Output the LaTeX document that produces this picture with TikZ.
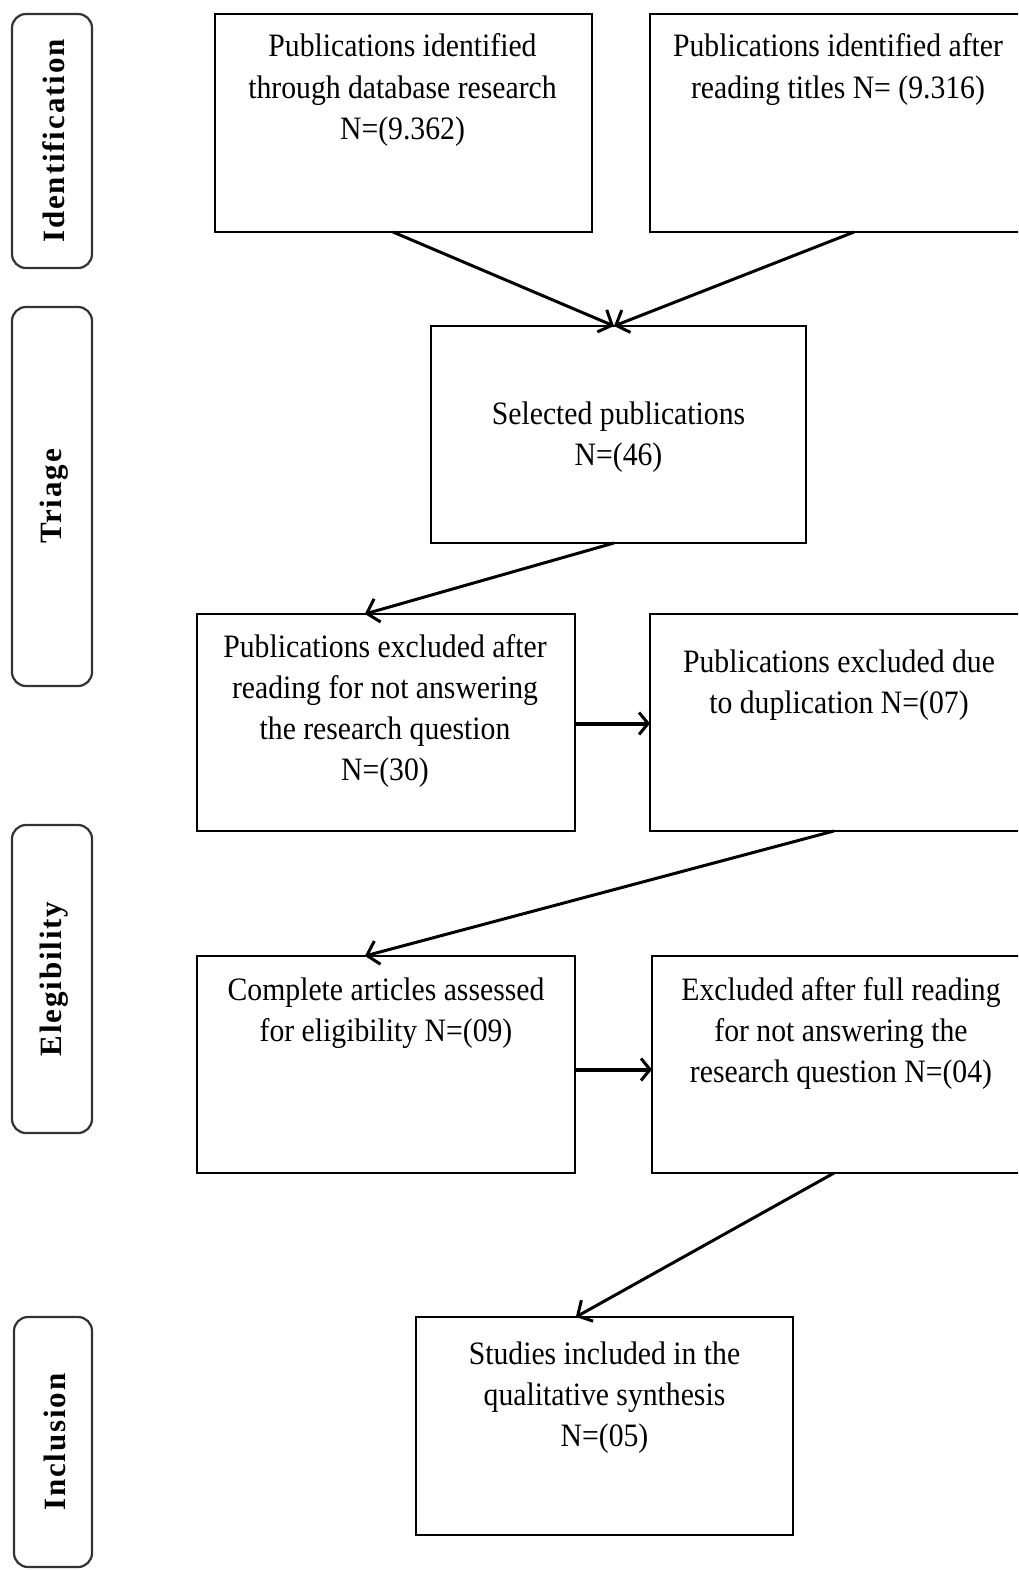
\documentclass[tikz,border=0pt]{standalone}
\usepackage{graphicx}
\usepackage{fontspec}
\setmainfont{Liberation Serif}
\newfontfamily\lblfont[LetterSpace=6]{Liberation Serif}
\usetikzlibrary{arrows.meta,calc}
\newcommand{\bxt}[1]{\scalebox{1}[1.1]{\fontsize{29.7}{37.3}\selectfont\begin{tabular}[t]{@{}c@{}}#1\end{tabular}}}
\newcommand{\lbt}[1]{{\lblfont\bfseries\fontsize{31}{31}\selectfont #1}}
\begin{document}
\begin{tikzpicture}[x=1pt,y=-1pt,
  box/.style={draw=black, line width=2.2pt, inner sep=0pt, outer sep=0pt, anchor=north west},
  lbox/.style={draw=black!80, line width=2.2pt, rounded corners=14pt, inner sep=0pt, outer sep=0pt, anchor=north west, minimum width=80pt},
  txt/.style={anchor=base, inner sep=0pt},
  ltxt/.style={rotate=90, inner sep=0pt},
  arr/.style={line width=3pt, -{Straight Barb[length=11pt,width=24pt]}},
  harr/.style={line width=4pt, -{Straight Barb[length=9pt,width=22pt,line width=3pt]}}
]
\useasboundingbox (0,0) rectangle (1018,1570);
\clip (0,0) rectangle (1018,1570);

% side labels
\node[lbox, minimum height=254pt] (l1) at (12,14) {};
\node[ltxt] (lt1) at ($(l1.center)+(2,0)$) {\lbt{Identification}};
\node[lbox, minimum height=379pt] (l2) at (12,307) {};
\node[ltxt] (lt2) at ($(l2.center)+(2,0)$) {\lbt{Triage}};
\node[lbox, minimum height=308pt] (l3) at (12,825) {};
\node[ltxt] (lt3) at ($(l3.center)+(2,0)$) {\lbt{Elegibility}};
\node[lbox, minimum height=250pt, minimum width=78pt] (l4) at (14,1317) {};
\node[ltxt] (lt4) at ($(l4.center)+(2,0)$) {\lbt{Inclusion}};

% boxes
\node[box, minimum width=377pt, minimum height=218pt] (b1) at (215,14) {};
\node[box, minimum width=380pt, minimum height=218pt] (b2) at (650,14) {};
\node[box, minimum width=375pt, minimum height=217pt] (b3) at (431,326) {};
\node[box, minimum width=378pt, minimum height=217pt] (b4) at (197,614) {};
\node[box, minimum width=380pt, minimum height=217pt] (b5) at (650,614) {};
\node[box, minimum width=378pt, minimum height=217pt] (b6) at (197,956) {};
\node[box, minimum width=380pt, minimum height=217pt] (b7) at (652,956) {};
\node[box, minimum width=377pt, minimum height=218pt] (b8) at (416,1317) {};

% texts
\node[txt] (t1) at ($(b1.north)+(-1,43)$) {\bxt{Publications identified\\through database research\\N=(9.362)}};
\node[txt] (t2) at ($(b2.north)+(-2,43)$) {\bxt{Publications identified after\\reading titles N= (9.316)}};
\node[txt] (t3) at ($(b3.north)+(0,98)$) {\bxt{Selected publications\\N=(46)}};
\node[txt] (t4) at ($(b4.north)+(-1,43)$) {\bxt{Publications excluded after\\reading for not answering\\the research question\\N=(30)}};
\node[txt] (t5) at ($(b5.north)+(-1,58)$) {\bxt{Publications excluded due\\to duplication N=(07)}};
\node[txt] (t6) at ($(b6.north)+(0,44)$) {\bxt{Complete articles assessed\\for eligibility N=(09)}};
\node[txt] (t7) at ($(b7.north)+(-1,44)$) {\bxt{Excluded after full reading\\for not answering the\\research question N=(04)}};
\node[txt] (t8) at ($(b8.north)+(0,47)$) {\bxt{Studies included in the\\qualitative synthesis\\N=(05)}};

% connectors
\draw[arr] ($(b1.south west)!0.472!(b1.south east)$) -- ($(b3.north west)!0.488!(b3.north east)$);
\draw[arr] ($(b2.south west)!0.537!(b2.south east)$) -- ($(b3.north west)!0.488!(b3.north east)$);
\draw[arr] ($(b3.south west)!0.488!(b3.south east)$) -- ($(b4.north west)!0.444!(b4.north east)$);
\draw[harr] ($(b4.east)+(0,1)$) -- ($(b5.west)+(0,1)$);
\draw[arr] ($(b5.south west)!0.484!(b5.south east)$) -- ($(b6.north west)!0.444!(b6.north east)$);
\draw[harr] ($(b6.east)+(0,5)$) -- ($(b7.west)+(0,5)$);
\draw[arr] ($(b7.south west)!0.479!(b7.south east)$) -- ($(b8.north west)!0.424!(b8.north east)$);
\end{tikzpicture}
\end{document}
